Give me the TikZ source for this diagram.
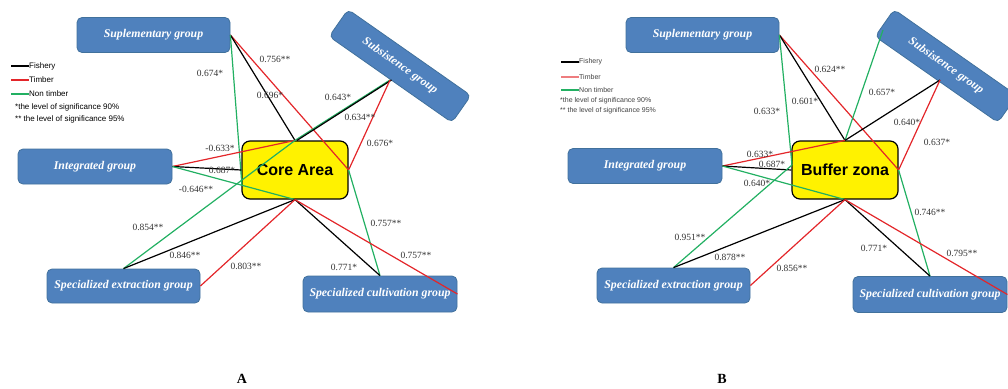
\documentclass[tikz,border=0pt]{standalone}
\usepackage{fontspec}
\setmainfont{Liberation Serif}
\newfontfamily\arialf{Liberation Sans}
\usetikzlibrary{calc}
\definecolor{boxblue}{HTML}{4F81BD}
\definecolor{boxedge}{HTML}{41719C}
\definecolor{lred}{HTML}{E3262A}
\definecolor{lgreen}{HTML}{22B062}
\tikzset{
 grp/.style={draw=boxedge, line width=0.8pt, fill=boxblue, rounded corners=5pt, text=white, font=\fontsize{11.8}{13}\selectfont\bfseries\itshape, inner sep=0pt},
 zone/.style={draw=black, line width=1.2pt, fill=yellow, rounded corners=8pt, font=\arialf\fontsize{16}{18}\selectfont\bfseries, inner sep=0pt, minimum width=106pt, minimum height=58pt},
 fish/.style={draw=black, line width=1.2pt},
 timb/.style={draw=lred, line width=1.2pt},
 nont/.style={draw=lgreen, line width=1.2pt},
 val/.style={font=\fontsize{9.5}{10}\selectfont, text=black!80, inner sep=0pt},
 leg/.style={font=\arialf\fontsize{8}{9}\selectfont, anchor=west, inner sep=0pt},
 legb/.style={font=\arialf\fontsize{7}{8}\selectfont, anchor=west, inner sep=0pt, text=black!75},
 captxt/.style={font=\fontsize{14}{16}\selectfont\bfseries, inner sep=0pt},
}
\begin{document}
\begin{tikzpicture}[x=1pt,y=-1pt]
\useasboundingbox (0,0) rectangle (1008,388);
% ---------------- Panel A ----------------
\node[grp, minimum width=153pt, minimum height=35pt] (supA) at (153.5,35) {Suplementary group};
\node[grp, minimum width=154pt, minimum height=35pt] (intA) at (95,166.5) {Integrated group};
\node[grp, minimum width=153pt, minimum height=34pt] (extA) at (123.5,286) {Specialized extraction group};
\node[grp, minimum width=154pt, minimum height=36pt] (cultA) at (380,294) {Specialized cultivation group};
\node[grp, rotate=-35, minimum width=150pt, minimum height=33pt] (subA) at (400,66) {Subsistence group};
\node[zone] (coreA) at (295,170) {Core Area};
\coordinate (sA) at (390,80);
\coordinate (gA) at (242,186);
% legend A
\node[leg] (lfA) at (29,66) {Fishery};
\node[leg] (ltA) at (29,80) {Timber};
\node[leg] (lnA) at (29,94) {Non timber};
\node[leg] (s1A) at (15,107) {*the level of significance 90\%};
\node[leg] (s2A) at (15,119) {** the level of significance 95\%};
\draw[fish] ($(lfA.west)+(-18,0)$) -- (lfA.west);
\draw[timb] ($(ltA.west)+(-18,0)$) -- (ltA.west);
\draw[nont] ($(lnA.west)+(-18,0)$) -- (lnA.west);
% connectors A
\draw[timb] (supA.east) -- (coreA.east);
\draw[fish] (supA.east) -- (coreA.north);
\draw[nont] (supA.east) -- (gA);
\draw[timb] (intA.east) -- (coreA.north);
\draw[fish] (intA.east) -- (coreA.west);
\draw[nont] (intA.east) -- (coreA.south);
\draw[nont] (extA.north) -- (coreA.north);
\draw[fish] (extA.north) -- (coreA.south);
\draw[timb] (extA.east) -- (coreA.south);
\draw[nont] (coreA.east) -- (cultA.north);
\draw[fish] (coreA.south) -- (cultA.north);
\draw[timb] (coreA.south) -- (cultA.east);
\draw[nont] (coreA.north) -- (sA);
\draw[fish] ([xshift=2pt]coreA.north) -- ([xshift=1.5pt]sA);
\draw[timb] (coreA.east) -- (sA);
% values A
\node[val] at (275,59) {0.756**};
\node[val] at (270,95) {0.696*};
\node[val] at (210,73) {0.674*};
\node[val] at (220,148) {-0.633*};
\node[val] at (222,170) {0.687*};
\node[val] at (196,189) {-0.646**};
\node[val] at (148,227) {0.854**};
\node[val] at (185,255) {0.846**};
\node[val] at (246,266) {0.803**};
\node[val] at (344,267) {0.771*};
\node[val] at (386,223) {0.757**};
\node[val] at (416,255) {0.757**};
\node[val] at (338,97) {0.643*};
\node[val] at (360,117) {0.634**};
\node[val] at (380,143) {0.676*};
% ---------------- Panel B ----------------
\node[grp, minimum width=153pt, minimum height=35pt] (supB) at (702.5,35) {Suplementary group};
\node[grp, minimum width=154pt, minimum height=35pt] (intB) at (645,166) {Integrated group};
\node[grp, minimum width=153pt, minimum height=35pt] (extB) at (673.5,285.5) {Specialized extraction group};
\node[grp, minimum width=154pt, minimum height=36pt] (cultB) at (930,294.5) {Specialized cultivation group};
\node[grp, rotate=-35, minimum width=150pt, minimum height=33pt] (subB) at (946,66) {Subsistence group};
\node[zone] (bufB) at (845,170) {Buffer zona};
\coordinate (sB) at (940,80);
\coordinate (sBg) at (883,30);
\coordinate (gB) at (792,165);
% legend B
\node[legb] (lfB) at (579,62) {Fishery};
\node[legb] (ltB) at (579,77) {Timber};
\node[legb] (lnB) at (579,90) {Non timber};
\node[legb] (s1B) at (560,101) {*the level of significance 90\%};
\node[legb] (s2B) at (560,111) {** the level of significance 95\%};
\draw[fish] ($(lfB.west)+(-18,0)$) -- (lfB.west);
\draw[draw=lred!60, line width=1.2pt] ($(ltB.west)+(-18,0)$) -- (ltB.west);
\draw[nont] ($(lnB.west)+(-18,0)$) -- (lnB.west);
% connectors B
\draw[timb] (supB.east) -- (bufB.east);
\draw[fish] (supB.east) -- (bufB.north);
\draw[nont] (supB.east) -- (gB);
\draw[nont] (sBg) -- (bufB.north);
\draw[fish] (sB) -- (bufB.north);
\draw[timb] (sB) -- (bufB.east);
\draw[timb] (intB.east) -- (bufB.north);
\draw[fish] (intB.east) -- (bufB.west);
\draw[nont] (intB.east) -- (bufB.south);
\draw[nont] (extB.north) -- (gB);
\draw[fish] (extB.north) -- (bufB.south);
\draw[timb] (extB.east) -- (bufB.south);
\draw[nont] (bufB.east) -- (cultB.north);
\draw[fish] (bufB.south) -- (cultB.north);
\draw[timb] (bufB.south) -- (cultB.east);
% values B
\node[val] at (830,69) {0.624**};
\node[val] at (805,101) {0.601*};
\node[val] at (767,111) {0.633*};
\node[val] at (882,92) {0.657*};
\node[val] at (907,122) {0.640*};
\node[val] at (937,142) {0.637*};
\node[val] at (760,154) {0.633*};
\node[val] at (772,164) {0.687*};
\node[val] at (757,183) {0.640*};
\node[val] at (690,237) {0.951**};
\node[val] at (730,257) {0.878**};
\node[val] at (792,268) {0.856**};
\node[val] at (874,248) {0.771*};
\node[val] at (930,212) {0.746**};
\node[val] at (962,253) {0.795**};
% captions
\node[captxt] (capA) at (242,379) {A};
\node[captxt] (capB) at (722,379) {B};
\end{tikzpicture}
\end{document}
